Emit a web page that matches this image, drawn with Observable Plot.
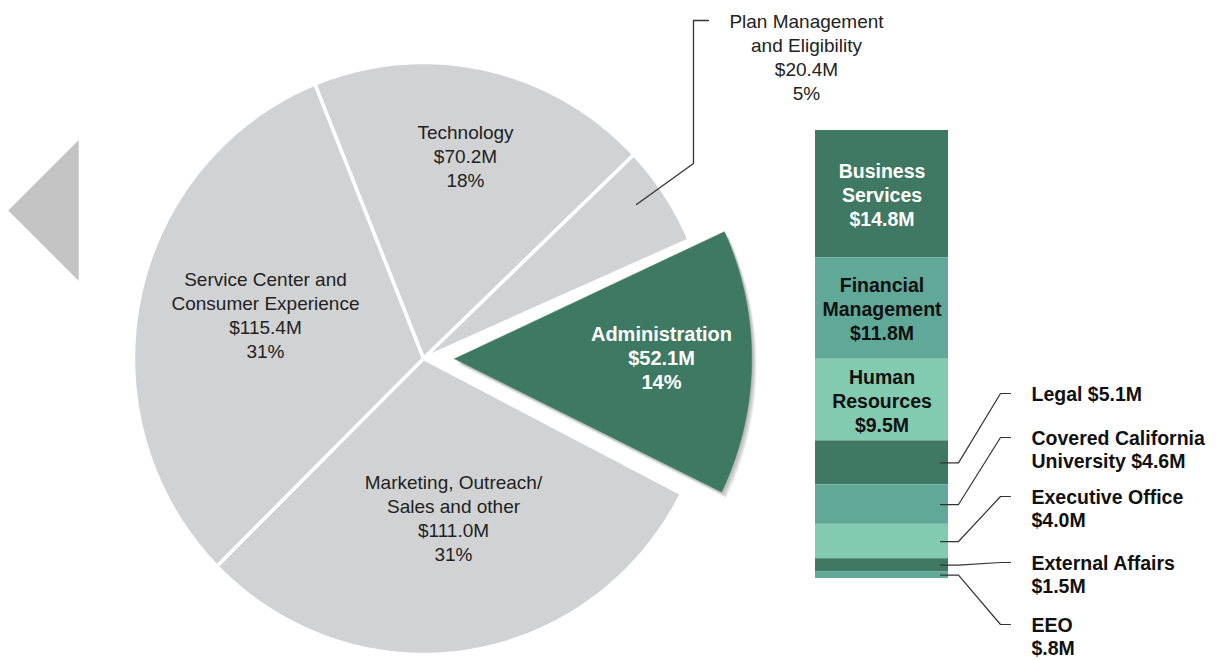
<!DOCTYPE html>
<html><head><meta charset="utf-8">
<script src="https://cdn.jsdelivr.net/npm/d3@7"></script>
<script src="https://cdn.jsdelivr.net/npm/@observablehq/plot@0.6"></script>
<style>
html,body{margin:0;padding:0;background:#fff;}
#chart{position:relative;width:1220px;height:660px;overflow:hidden;background:#fff;}
#chart svg{position:absolute;left:0;top:0;}
</style></head><body><div id="chart"></div>
<script>
// ---------- data ----------
const pieLabelLines = ["Technology", "Plan Management\nand Eligibility", "Administration", "Marketing, Outreach/\nSales and other", "Service Center and\nConsumer Experience"];
const pieValues = [70.2, 20.4, 52.1, 111.0, 115.4];
const piePercents = ["18%", "5%", "14%", "31%", "31%"];

const adminNames = ["Business\nServices", "Financial\nManagement", "Human\nResources", "Legal", "Covered California\nUniversity", "Executive Office", "External Affairs", "EEO"];
const adminValues = [14.8, 11.8, 9.5, 5.1, 4.6, 4.0, 1.5, 0.8];
const adminOutsideJoin = ["", "", "", " ", " ", "\n", "\n", "\n"]; // how name and value are joined in the text

// ---------- styles / layout ----------
const FONT = "'Liberation Sans', Arial, Helvetica, sans-serif";
const W = 1220, H = 660;
const GRAY = "#d1d2d4", GREEN = "#3e7a63", TEXT = "#222";
const barColors = ["#3f7963", "#60a898", "#83cbb0"];
const cx = 423, cy = 358, rx = 290, ry = 296, explode = 31, startDeg = -22;
const adminScale = 1.025, adminTurn = -0.02;
const pieLabelPos = [[465, 155], [806, 56], [661, 357], [453, 517], [265, 314]];
const barTop = 130, barBottom = 578, barX1 = 815, barX2 = 948;
const outLabelFirstY = [393, 437, 496, 562, 624];
const outLabelX = 1031;

const fmt = v => "$" + v.toFixed(1).replace(/^0/, "") + "M";

// ---------- pie geometry via d3.pie ----------
const a0 = startDeg * Math.PI / 180;
const arcs = d3.pie().sort(null).startAngle(a0).endAngle(a0 + 2 * Math.PI)(pieValues);
const pt = (a, k, ox, oy) => ({x: ox + k * rx * Math.sin(a), y: oy - k * ry * Math.cos(a)});
const slices = arcs.map((arc, i) => {
  const isAdmin = i === 2;
  const turn = isAdmin ? adminTurn : 0, k = isAdmin ? adminScale : 1;
  const s0 = arc.startAngle + turn, s1 = arc.endAngle + turn;
  const mid = (s0 + s1) / 2;
  const off = isAdmin ? explode : 0;
  const ox = cx + off * Math.sin(mid), oy = cy - off * Math.cos(mid);
  const pts = [{x: ox, y: oy}];
  const N = 120;
  for (let t = 0; t <= N; t++) pts.push(pt(s0 + (s1 - s0) * t / N, k, ox, oy));
  pts.push({x: ox, y: oy});
  return {i, pts, mid, ox, oy};
});
const adminSlice = slices[2];
// soft shadow layers under the exploded slice
const shadowLayers = [6, 5, 4, 3, 2].map(s => adminSlice.pts.map(p => ({x: p.x + s * 0.8, y: p.y + s})));

const pieText = pieValues.map((v, i) => ({
  x: pieLabelPos[i][0], y: pieLabelPos[i][1],
  text: pieLabelLines[i] + "\n" + fmt(v) + "\n" + piePercents[i], i
}));

// leader for Plan Management slice
const planStart = pt(slices[1].mid - 0.03, 0.9, cx, cy);
const planLeader = [planStart, {x: 693, y: 163}, {x: 693, y: 20}, {x: 708, y: 20}];

const triangle = [{x: 8, y: 210}, {x: 78, y: 140}, {x: 78, y: 280}, {x: 8, y: 210}];

const piePlot = Plot.plot({
  width: W, height: H, margin: 0,
  style: {background: "transparent", fontFamily: FONT},
  x: {domain: [0, W], range: [0, W], axis: null},
  y: {domain: [0, H], range: [0, H], axis: null},
  marks: [
    Plot.line(triangle, {x: "x", y: "y", fill: "#c4c4c4", stroke: "#c4c4c4", strokeWidth: 0.5}),
    ...slices.filter(s => s.i !== 2).map(s => Plot.line(s.pts, {x: "x", y: "y", fill: GRAY, stroke: "white", strokeWidth: 3.5, strokeLinejoin: "round"})),
    ...shadowLayers.map(L => Plot.line(L, {x: "x", y: "y", fill: "black", fillOpacity: 0.055, stroke: "none"})),
    Plot.line(adminSlice.pts, {x: "x", y: "y", fill: GREEN, stroke: GREEN, strokeWidth: 0.5, strokeLinejoin: "round"}),
    Plot.line(planLeader, {x: "x", y: "y", stroke: "#333", strokeWidth: 1.3}),
    Plot.text(pieText.filter(d => d.i !== 2), {x: "x", y: "y", text: "text", fill: TEXT, fontSize: 19, lineHeight: 1.27, fontFamily: FONT}),
    Plot.text(pieText.filter(d => d.i === 2), {x: "x", y: "y", text: "text", fill: "white", fontSize: 20, fontWeight: "bold", lineHeight: 1.2, fontFamily: FONT})
  ]
});

// ---------- stacked bar ----------
const total = d3.sum(adminValues);
const cum = d3.cumsum(adminValues);
const barData = adminValues.map((v, i) => ({
  i, value: v, y1: cum[i] - v, y2: cum[i], fill: barColors[i % 3]
}));
const toM = px => (px - barTop) / (barBottom - barTop) * total;
const insideText = barData.slice(0, 3).map(d => ({
  y: (d.y1 + d.y2) / 2, text: adminNames[d.i] + "\n" + fmt(d.value), fill: d.i === 0 ? "white" : "#111"
}));
const outside = barData.slice(3).map((d, k) => {
  const text = adminNames[d.i] + adminOutsideJoin[d.i] + fmt(d.value);
  const n = text.split("\n").length;
  return {k, d, text, yFirst: outLabelFirstY[k], y: toM(outLabelFirstY[k] + (n - 1) * 23.5 / 2)};
});
const leaders = outside.flatMap(o => {
  const m = (o.d.y1 + o.d.y2) / 2, ly = toM(o.yFirst);
  return [
    {k: o.k, x: barX2 - 8, y: m},
    {k: o.k, x: barX2 + 10, y: m},
    {k: o.k, x: outLabelX - 31, y: ly},
    {k: o.k, x: outLabelX - 21, y: ly}
  ];
});

const barPlot = Plot.plot({
  width: W, height: H, margin: 0,
  style: {background: "transparent", fontFamily: FONT},
  x: {domain: [0, W], range: [0, W], axis: null},
  y: {domain: [0, total], range: [barTop, barBottom], axis: null},
  color: {type: "identity"},
  marks: [
    Plot.rect(barData, {x1: () => barX1, x2: () => barX2, y1: "y1", y2: "y2", fill: "fill"}),
    Plot.text(insideText, {x: () => (barX1 + barX2) / 2, y: "y", text: "text", fill: "fill", fontSize: 19.5, fontWeight: "bold", lineHeight: 1.24, fontFamily: FONT}),
    Plot.line(leaders, {x: "x", y: "y", z: "k", stroke: "#333", strokeWidth: 1.2}),
    Plot.text(outside, {x: () => outLabelX, y: "y", text: "text", textAnchor: "start", fill: "#111", fontSize: 19.5, fontWeight: "bold", lineHeight: 1.2, fontFamily: FONT})
  ]
});

const chart = document.getElementById("chart");
chart.appendChild(piePlot);
chart.appendChild(barPlot);
</script>
</body></html>
